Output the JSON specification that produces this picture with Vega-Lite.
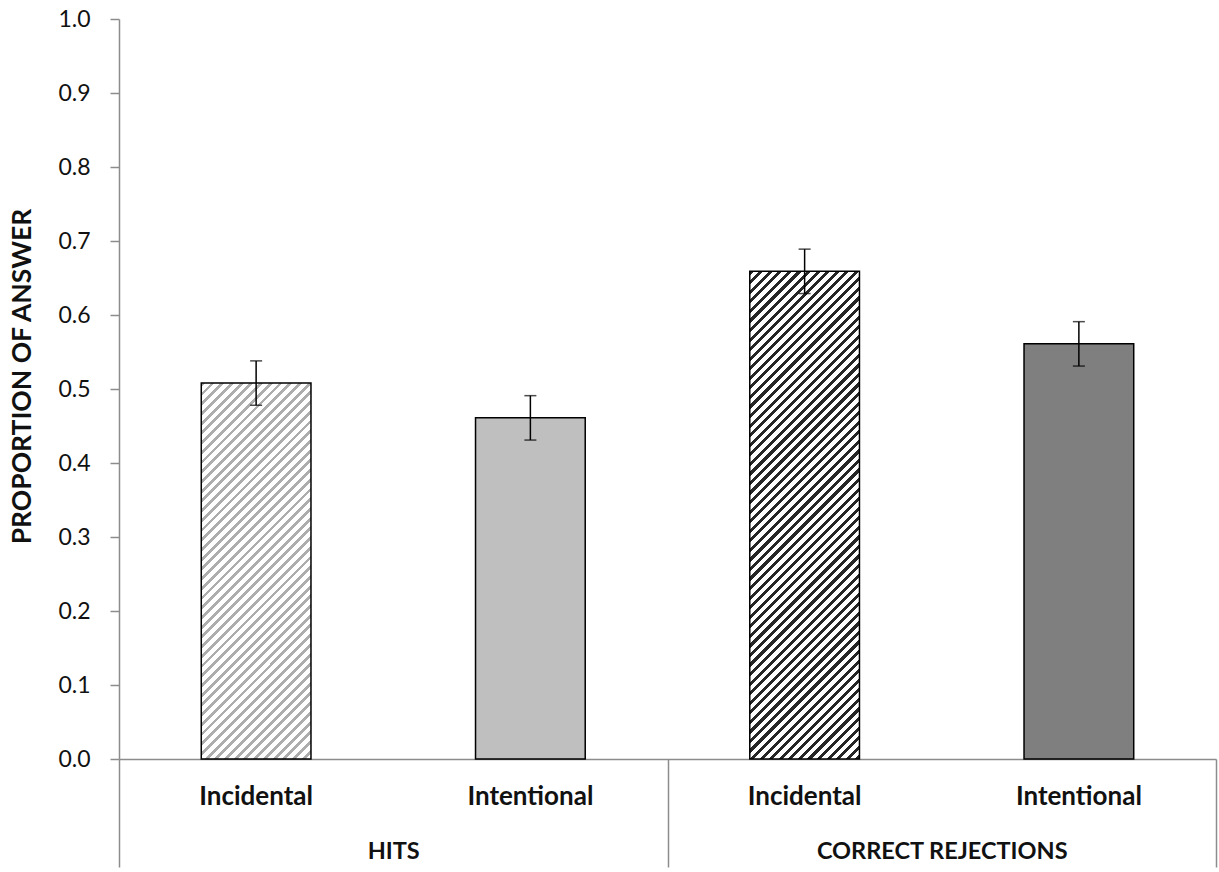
{
  "$schema": "https://vega.github.io/schema/vega-lite/v6.json",
  "width": 1097,
  "height": 740,
  "autosize": {"type": "none"},
  "padding": {"left": 119, "top": 19, "right": 3, "bottom": 113},
  "background": "#ffffff",
  "config": {
    "view": {"stroke": null},
    "font": "Lato",
    "axis": {"domainColor": "#8c8c8c", "domainWidth": 1.5, "tickColor": "#8c8c8c", "tickWidth": 1.5, "grid": false, "labelColor": "#111111", "titleColor": "#111111"}
  },
  "data": {
    "values": [
      {"measure": "HITS", "condition": "Incidental", "proportion": 0.508, "lower": 0.478, "upper": 0.538},
      {"measure": "HITS", "condition": "Intentional", "proportion": 0.461, "lower": 0.431, "upper": 0.491},
      {"measure": "CORRECT REJECTIONS", "condition": "Incidental", "proportion": 0.659, "lower": 0.629, "upper": 0.689},
      {"measure": "CORRECT REJECTIONS", "condition": "Intentional", "proportion": 0.561, "lower": 0.531, "upper": 0.591}
    ]
  },
  "encoding": {
    "x": {
      "field": "measure",
      "type": "nominal",
      "sort": ["HITS", "CORRECT REJECTIONS"],
      "scale": {"paddingInner": 0, "paddingOuter": 0},
      "axis": {
        "title": null,
        "orient": "bottom",
        "tickBand": "extent",
        "tickSize": 108,
        "labelAngle": 0,
        "labelFontSize": 23.5,
        "labelFontWeight": "bold",
        "labelPadding": -27.5,
        "labelLimit": 0,
        "labelOverlap": false
      }
    },
    "xOffset": {
      "field": "condition",
      "type": "nominal",
      "sort": ["Incidental", "Intentional"],
      "scale": {"paddingInner": 0.6, "paddingOuter": 0.3}
    }
  },
  "layer": [
    {
      "transform": [{"filter": "datum.condition === 'Intentional'"}],
      "mark": {"type": "bar", "stroke": "#000000", "strokeWidth": 1.5},
      "encoding": {
        "y": {
          "field": "proportion",
          "type": "quantitative",
          "title": "PROPORTION OF ANSWER",
          "scale": {"domain": [0, 1], "nice": false},
          "axis": {
            "values": [0, 0.1, 0.2, 0.3, 0.4, 0.5, 0.6, 0.7, 0.8, 0.9, 1],
            "format": ".1f",
            "tickSize": 9,
            "labelPadding": 20,
            "labelFontSize": 23,
            "titleFontSize": 26.5,
            "titleFontWeight": "bold",
            "titleAngle": -90,
            "titleX": -97,
            "titleY": 357,
            "titleAlign": "center",
            "titleBaseline": "middle"
          }
        },
        "color": {
          "field": "measure",
          "type": "nominal",
          "scale": {"domain": ["HITS", "CORRECT REJECTIONS"], "range": ["#bfbfbf", "#7f7f7f"]},
          "legend": null
        }
      }
    },
    {
      "transform": [{"filter": "datum.condition === 'Incidental' && datum.measure === 'HITS'"}],
      "mark": {
        "type": "bar",
        "stroke": "#000000",
        "strokeWidth": 1.5,
        "fill": {
          "gradient": "linear",
          "x1": 0, "y1": 0, "x2": 0.34741, "y2": 1.19044,
          "stops": [
            {"offset": 0, "color": "#adadad"}, {"offset": 0.008, "color": "#adadad"}, {"offset": 0.008, "color": "#fff"}, {"offset": 0.02, "color": "#fff"},
            {"offset": 0.02, "color": "#adadad"}, {"offset": 0.028, "color": "#adadad"}, {"offset": 0.028, "color": "#fff"}, {"offset": 0.04, "color": "#fff"},
            {"offset": 0.04, "color": "#adadad"}, {"offset": 0.048, "color": "#adadad"}, {"offset": 0.048, "color": "#fff"}, {"offset": 0.06, "color": "#fff"},
            {"offset": 0.06, "color": "#adadad"}, {"offset": 0.068, "color": "#adadad"}, {"offset": 0.068, "color": "#fff"}, {"offset": 0.08, "color": "#fff"},
            {"offset": 0.08, "color": "#adadad"}, {"offset": 0.088, "color": "#adadad"}, {"offset": 0.088, "color": "#fff"}, {"offset": 0.1, "color": "#fff"},
            {"offset": 0.1, "color": "#adadad"}, {"offset": 0.108, "color": "#adadad"}, {"offset": 0.108, "color": "#fff"}, {"offset": 0.12, "color": "#fff"},
            {"offset": 0.12, "color": "#adadad"}, {"offset": 0.128, "color": "#adadad"}, {"offset": 0.128, "color": "#fff"}, {"offset": 0.14, "color": "#fff"},
            {"offset": 0.14, "color": "#adadad"}, {"offset": 0.148, "color": "#adadad"}, {"offset": 0.148, "color": "#fff"}, {"offset": 0.16, "color": "#fff"},
            {"offset": 0.16, "color": "#adadad"}, {"offset": 0.168, "color": "#adadad"}, {"offset": 0.168, "color": "#fff"}, {"offset": 0.18, "color": "#fff"},
            {"offset": 0.18, "color": "#adadad"}, {"offset": 0.188, "color": "#adadad"}, {"offset": 0.188, "color": "#fff"}, {"offset": 0.2, "color": "#fff"},
            {"offset": 0.2, "color": "#adadad"}, {"offset": 0.208, "color": "#adadad"}, {"offset": 0.208, "color": "#fff"}, {"offset": 0.22, "color": "#fff"},
            {"offset": 0.22, "color": "#adadad"}, {"offset": 0.228, "color": "#adadad"}, {"offset": 0.228, "color": "#fff"}, {"offset": 0.24, "color": "#fff"},
            {"offset": 0.24, "color": "#adadad"}, {"offset": 0.248, "color": "#adadad"}, {"offset": 0.248, "color": "#fff"}, {"offset": 0.26, "color": "#fff"},
            {"offset": 0.26, "color": "#adadad"}, {"offset": 0.268, "color": "#adadad"}, {"offset": 0.268, "color": "#fff"}, {"offset": 0.28, "color": "#fff"},
            {"offset": 0.28, "color": "#adadad"}, {"offset": 0.288, "color": "#adadad"}, {"offset": 0.288, "color": "#fff"}, {"offset": 0.3, "color": "#fff"},
            {"offset": 0.3, "color": "#adadad"}, {"offset": 0.308, "color": "#adadad"}, {"offset": 0.308, "color": "#fff"}, {"offset": 0.32, "color": "#fff"},
            {"offset": 0.32, "color": "#adadad"}, {"offset": 0.328, "color": "#adadad"}, {"offset": 0.328, "color": "#fff"}, {"offset": 0.34, "color": "#fff"},
            {"offset": 0.34, "color": "#adadad"}, {"offset": 0.348, "color": "#adadad"}, {"offset": 0.348, "color": "#fff"}, {"offset": 0.36, "color": "#fff"},
            {"offset": 0.36, "color": "#adadad"}, {"offset": 0.368, "color": "#adadad"}, {"offset": 0.368, "color": "#fff"}, {"offset": 0.38, "color": "#fff"},
            {"offset": 0.38, "color": "#adadad"}, {"offset": 0.388, "color": "#adadad"}, {"offset": 0.388, "color": "#fff"}, {"offset": 0.4, "color": "#fff"},
            {"offset": 0.4, "color": "#adadad"}, {"offset": 0.408, "color": "#adadad"}, {"offset": 0.408, "color": "#fff"}, {"offset": 0.42, "color": "#fff"},
            {"offset": 0.42, "color": "#adadad"}, {"offset": 0.428, "color": "#adadad"}, {"offset": 0.428, "color": "#fff"}, {"offset": 0.44, "color": "#fff"},
            {"offset": 0.44, "color": "#adadad"}, {"offset": 0.448, "color": "#adadad"}, {"offset": 0.448, "color": "#fff"}, {"offset": 0.46, "color": "#fff"},
            {"offset": 0.46, "color": "#adadad"}, {"offset": 0.468, "color": "#adadad"}, {"offset": 0.468, "color": "#fff"}, {"offset": 0.48, "color": "#fff"},
            {"offset": 0.48, "color": "#adadad"}, {"offset": 0.488, "color": "#adadad"}, {"offset": 0.488, "color": "#fff"}, {"offset": 0.5, "color": "#fff"},
            {"offset": 0.5, "color": "#adadad"}, {"offset": 0.508, "color": "#adadad"}, {"offset": 0.508, "color": "#fff"}, {"offset": 0.52, "color": "#fff"},
            {"offset": 0.52, "color": "#adadad"}, {"offset": 0.528, "color": "#adadad"}, {"offset": 0.528, "color": "#fff"}, {"offset": 0.54, "color": "#fff"},
            {"offset": 0.54, "color": "#adadad"}, {"offset": 0.548, "color": "#adadad"}, {"offset": 0.548, "color": "#fff"}, {"offset": 0.56, "color": "#fff"},
            {"offset": 0.56, "color": "#adadad"}, {"offset": 0.568, "color": "#adadad"}, {"offset": 0.568, "color": "#fff"}, {"offset": 0.58, "color": "#fff"},
            {"offset": 0.58, "color": "#adadad"}, {"offset": 0.588, "color": "#adadad"}, {"offset": 0.588, "color": "#fff"}, {"offset": 0.6, "color": "#fff"},
            {"offset": 0.6, "color": "#adadad"}, {"offset": 0.608, "color": "#adadad"}, {"offset": 0.608, "color": "#fff"}, {"offset": 0.62, "color": "#fff"},
            {"offset": 0.62, "color": "#adadad"}, {"offset": 0.628, "color": "#adadad"}, {"offset": 0.628, "color": "#fff"}, {"offset": 0.64, "color": "#fff"},
            {"offset": 0.64, "color": "#adadad"}, {"offset": 0.648, "color": "#adadad"}, {"offset": 0.648, "color": "#fff"}, {"offset": 0.66, "color": "#fff"},
            {"offset": 0.66, "color": "#adadad"}, {"offset": 0.668, "color": "#adadad"}, {"offset": 0.668, "color": "#fff"}, {"offset": 0.68, "color": "#fff"},
            {"offset": 0.68, "color": "#adadad"}, {"offset": 0.688, "color": "#adadad"}, {"offset": 0.688, "color": "#fff"}, {"offset": 0.7, "color": "#fff"},
            {"offset": 0.7, "color": "#adadad"}, {"offset": 0.708, "color": "#adadad"}, {"offset": 0.708, "color": "#fff"}, {"offset": 0.72, "color": "#fff"},
            {"offset": 0.72, "color": "#adadad"}, {"offset": 0.728, "color": "#adadad"}, {"offset": 0.728, "color": "#fff"}, {"offset": 0.74, "color": "#fff"},
            {"offset": 0.74, "color": "#adadad"}, {"offset": 0.748, "color": "#adadad"}, {"offset": 0.748, "color": "#fff"}, {"offset": 0.76, "color": "#fff"},
            {"offset": 0.76, "color": "#adadad"}, {"offset": 0.768, "color": "#adadad"}, {"offset": 0.768, "color": "#fff"}, {"offset": 0.78, "color": "#fff"},
            {"offset": 0.78, "color": "#adadad"}, {"offset": 0.788, "color": "#adadad"}, {"offset": 0.788, "color": "#fff"}, {"offset": 0.8, "color": "#fff"},
            {"offset": 0.8, "color": "#adadad"}, {"offset": 0.808, "color": "#adadad"}, {"offset": 0.808, "color": "#fff"}, {"offset": 0.82, "color": "#fff"},
            {"offset": 0.82, "color": "#adadad"}, {"offset": 0.828, "color": "#adadad"}, {"offset": 0.828, "color": "#fff"}, {"offset": 0.84, "color": "#fff"},
            {"offset": 0.84, "color": "#adadad"}, {"offset": 0.848, "color": "#adadad"}, {"offset": 0.848, "color": "#fff"}, {"offset": 0.86, "color": "#fff"},
            {"offset": 0.86, "color": "#adadad"}, {"offset": 0.868, "color": "#adadad"}, {"offset": 0.868, "color": "#fff"}, {"offset": 0.88, "color": "#fff"},
            {"offset": 0.88, "color": "#adadad"}, {"offset": 0.888, "color": "#adadad"}, {"offset": 0.888, "color": "#fff"}, {"offset": 0.9, "color": "#fff"},
            {"offset": 0.9, "color": "#adadad"}, {"offset": 0.908, "color": "#adadad"}, {"offset": 0.908, "color": "#fff"}, {"offset": 0.92, "color": "#fff"},
            {"offset": 0.92, "color": "#adadad"}, {"offset": 0.928, "color": "#adadad"}, {"offset": 0.928, "color": "#fff"}, {"offset": 0.94, "color": "#fff"},
            {"offset": 0.94, "color": "#adadad"}, {"offset": 0.948, "color": "#adadad"}, {"offset": 0.948, "color": "#fff"}, {"offset": 0.96, "color": "#fff"},
            {"offset": 0.96, "color": "#adadad"}, {"offset": 0.968, "color": "#adadad"}, {"offset": 0.968, "color": "#fff"}, {"offset": 0.98, "color": "#fff"},
            {"offset": 0.98, "color": "#adadad"}, {"offset": 0.988, "color": "#adadad"}, {"offset": 0.988, "color": "#fff"}, {"offset": 1, "color": "#fff"}
          ]
        }
      },
      "encoding": {
        "y": {"field": "proportion", "type": "quantitative", "title": "PROPORTION OF ANSWER"}
      }
    },
    {
      "transform": [{"filter": "datum.condition === 'Incidental' && datum.measure === 'CORRECT REJECTIONS'"}],
      "mark": {
        "type": "bar",
        "stroke": "#000000",
        "strokeWidth": 1.5,
        "fill": {
          "gradient": "linear",
          "x1": 0, "y1": 0, "x2": 0.26225, "y2": 1.16591,
          "stops": [
            {"offset": 0, "color": "#262626"}, {"offset": 0.007, "color": "#262626"}, {"offset": 0.007, "color": "#fff"}, {"offset": 0.016, "color": "#fff"},
            {"offset": 0.016, "color": "#262626"}, {"offset": 0.023, "color": "#262626"}, {"offset": 0.023, "color": "#fff"}, {"offset": 0.032, "color": "#fff"},
            {"offset": 0.032, "color": "#262626"}, {"offset": 0.039, "color": "#262626"}, {"offset": 0.039, "color": "#fff"}, {"offset": 0.048, "color": "#fff"},
            {"offset": 0.048, "color": "#262626"}, {"offset": 0.055, "color": "#262626"}, {"offset": 0.055, "color": "#fff"}, {"offset": 0.064, "color": "#fff"},
            {"offset": 0.064, "color": "#262626"}, {"offset": 0.071, "color": "#262626"}, {"offset": 0.071, "color": "#fff"}, {"offset": 0.08, "color": "#fff"},
            {"offset": 0.08, "color": "#262626"}, {"offset": 0.087, "color": "#262626"}, {"offset": 0.087, "color": "#fff"}, {"offset": 0.096, "color": "#fff"},
            {"offset": 0.096, "color": "#262626"}, {"offset": 0.103, "color": "#262626"}, {"offset": 0.103, "color": "#fff"}, {"offset": 0.112, "color": "#fff"},
            {"offset": 0.112, "color": "#262626"}, {"offset": 0.119, "color": "#262626"}, {"offset": 0.119, "color": "#fff"}, {"offset": 0.128, "color": "#fff"},
            {"offset": 0.128, "color": "#262626"}, {"offset": 0.135, "color": "#262626"}, {"offset": 0.135, "color": "#fff"}, {"offset": 0.144, "color": "#fff"},
            {"offset": 0.144, "color": "#262626"}, {"offset": 0.151, "color": "#262626"}, {"offset": 0.151, "color": "#fff"}, {"offset": 0.16, "color": "#fff"},
            {"offset": 0.16, "color": "#262626"}, {"offset": 0.167, "color": "#262626"}, {"offset": 0.167, "color": "#fff"}, {"offset": 0.176, "color": "#fff"},
            {"offset": 0.176, "color": "#262626"}, {"offset": 0.183, "color": "#262626"}, {"offset": 0.183, "color": "#fff"}, {"offset": 0.192, "color": "#fff"},
            {"offset": 0.192, "color": "#262626"}, {"offset": 0.199, "color": "#262626"}, {"offset": 0.199, "color": "#fff"}, {"offset": 0.208, "color": "#fff"},
            {"offset": 0.208, "color": "#262626"}, {"offset": 0.215, "color": "#262626"}, {"offset": 0.215, "color": "#fff"}, {"offset": 0.224, "color": "#fff"},
            {"offset": 0.224, "color": "#262626"}, {"offset": 0.231, "color": "#262626"}, {"offset": 0.231, "color": "#fff"}, {"offset": 0.24, "color": "#fff"},
            {"offset": 0.24, "color": "#262626"}, {"offset": 0.247, "color": "#262626"}, {"offset": 0.247, "color": "#fff"}, {"offset": 0.256, "color": "#fff"},
            {"offset": 0.256, "color": "#262626"}, {"offset": 0.263, "color": "#262626"}, {"offset": 0.263, "color": "#fff"}, {"offset": 0.272, "color": "#fff"},
            {"offset": 0.272, "color": "#262626"}, {"offset": 0.279, "color": "#262626"}, {"offset": 0.279, "color": "#fff"}, {"offset": 0.288, "color": "#fff"},
            {"offset": 0.288, "color": "#262626"}, {"offset": 0.295, "color": "#262626"}, {"offset": 0.295, "color": "#fff"}, {"offset": 0.304, "color": "#fff"},
            {"offset": 0.304, "color": "#262626"}, {"offset": 0.311, "color": "#262626"}, {"offset": 0.311, "color": "#fff"}, {"offset": 0.32, "color": "#fff"},
            {"offset": 0.32, "color": "#262626"}, {"offset": 0.327, "color": "#262626"}, {"offset": 0.327, "color": "#fff"}, {"offset": 0.336, "color": "#fff"},
            {"offset": 0.336, "color": "#262626"}, {"offset": 0.343, "color": "#262626"}, {"offset": 0.343, "color": "#fff"}, {"offset": 0.352, "color": "#fff"},
            {"offset": 0.352, "color": "#262626"}, {"offset": 0.359, "color": "#262626"}, {"offset": 0.359, "color": "#fff"}, {"offset": 0.368, "color": "#fff"},
            {"offset": 0.368, "color": "#262626"}, {"offset": 0.375, "color": "#262626"}, {"offset": 0.375, "color": "#fff"}, {"offset": 0.384, "color": "#fff"},
            {"offset": 0.384, "color": "#262626"}, {"offset": 0.391, "color": "#262626"}, {"offset": 0.391, "color": "#fff"}, {"offset": 0.4, "color": "#fff"},
            {"offset": 0.4, "color": "#262626"}, {"offset": 0.407, "color": "#262626"}, {"offset": 0.407, "color": "#fff"}, {"offset": 0.416, "color": "#fff"},
            {"offset": 0.416, "color": "#262626"}, {"offset": 0.423, "color": "#262626"}, {"offset": 0.423, "color": "#fff"}, {"offset": 0.432, "color": "#fff"},
            {"offset": 0.432, "color": "#262626"}, {"offset": 0.439, "color": "#262626"}, {"offset": 0.439, "color": "#fff"}, {"offset": 0.448, "color": "#fff"},
            {"offset": 0.448, "color": "#262626"}, {"offset": 0.455, "color": "#262626"}, {"offset": 0.455, "color": "#fff"}, {"offset": 0.464, "color": "#fff"},
            {"offset": 0.464, "color": "#262626"}, {"offset": 0.471, "color": "#262626"}, {"offset": 0.471, "color": "#fff"}, {"offset": 0.48, "color": "#fff"},
            {"offset": 0.48, "color": "#262626"}, {"offset": 0.487, "color": "#262626"}, {"offset": 0.487, "color": "#fff"}, {"offset": 0.496, "color": "#fff"},
            {"offset": 0.496, "color": "#262626"}, {"offset": 0.503, "color": "#262626"}, {"offset": 0.503, "color": "#fff"}, {"offset": 0.512, "color": "#fff"},
            {"offset": 0.512, "color": "#262626"}, {"offset": 0.519, "color": "#262626"}, {"offset": 0.519, "color": "#fff"}, {"offset": 0.528, "color": "#fff"},
            {"offset": 0.528, "color": "#262626"}, {"offset": 0.535, "color": "#262626"}, {"offset": 0.535, "color": "#fff"}, {"offset": 0.544, "color": "#fff"},
            {"offset": 0.544, "color": "#262626"}, {"offset": 0.551, "color": "#262626"}, {"offset": 0.551, "color": "#fff"}, {"offset": 0.56, "color": "#fff"},
            {"offset": 0.56, "color": "#262626"}, {"offset": 0.567, "color": "#262626"}, {"offset": 0.567, "color": "#fff"}, {"offset": 0.576, "color": "#fff"},
            {"offset": 0.576, "color": "#262626"}, {"offset": 0.583, "color": "#262626"}, {"offset": 0.583, "color": "#fff"}, {"offset": 0.592, "color": "#fff"},
            {"offset": 0.592, "color": "#262626"}, {"offset": 0.599, "color": "#262626"}, {"offset": 0.599, "color": "#fff"}, {"offset": 0.608, "color": "#fff"},
            {"offset": 0.608, "color": "#262626"}, {"offset": 0.615, "color": "#262626"}, {"offset": 0.615, "color": "#fff"}, {"offset": 0.624, "color": "#fff"},
            {"offset": 0.624, "color": "#262626"}, {"offset": 0.631, "color": "#262626"}, {"offset": 0.631, "color": "#fff"}, {"offset": 0.64, "color": "#fff"},
            {"offset": 0.64, "color": "#262626"}, {"offset": 0.647, "color": "#262626"}, {"offset": 0.647, "color": "#fff"}, {"offset": 0.656, "color": "#fff"},
            {"offset": 0.656, "color": "#262626"}, {"offset": 0.663, "color": "#262626"}, {"offset": 0.663, "color": "#fff"}, {"offset": 0.672, "color": "#fff"},
            {"offset": 0.672, "color": "#262626"}, {"offset": 0.679, "color": "#262626"}, {"offset": 0.679, "color": "#fff"}, {"offset": 0.688, "color": "#fff"},
            {"offset": 0.688, "color": "#262626"}, {"offset": 0.695, "color": "#262626"}, {"offset": 0.695, "color": "#fff"}, {"offset": 0.704, "color": "#fff"},
            {"offset": 0.704, "color": "#262626"}, {"offset": 0.711, "color": "#262626"}, {"offset": 0.711, "color": "#fff"}, {"offset": 0.72, "color": "#fff"},
            {"offset": 0.72, "color": "#262626"}, {"offset": 0.727, "color": "#262626"}, {"offset": 0.727, "color": "#fff"}, {"offset": 0.736, "color": "#fff"},
            {"offset": 0.736, "color": "#262626"}, {"offset": 0.743, "color": "#262626"}, {"offset": 0.743, "color": "#fff"}, {"offset": 0.752, "color": "#fff"},
            {"offset": 0.752, "color": "#262626"}, {"offset": 0.759, "color": "#262626"}, {"offset": 0.759, "color": "#fff"}, {"offset": 0.768, "color": "#fff"},
            {"offset": 0.768, "color": "#262626"}, {"offset": 0.775, "color": "#262626"}, {"offset": 0.775, "color": "#fff"}, {"offset": 0.784, "color": "#fff"},
            {"offset": 0.784, "color": "#262626"}, {"offset": 0.791, "color": "#262626"}, {"offset": 0.791, "color": "#fff"}, {"offset": 0.8, "color": "#fff"},
            {"offset": 0.8, "color": "#262626"}, {"offset": 0.807, "color": "#262626"}, {"offset": 0.807, "color": "#fff"}, {"offset": 0.816, "color": "#fff"},
            {"offset": 0.816, "color": "#262626"}, {"offset": 0.823, "color": "#262626"}, {"offset": 0.823, "color": "#fff"}, {"offset": 0.832, "color": "#fff"},
            {"offset": 0.832, "color": "#262626"}, {"offset": 0.839, "color": "#262626"}, {"offset": 0.839, "color": "#fff"}, {"offset": 0.848, "color": "#fff"},
            {"offset": 0.848, "color": "#262626"}, {"offset": 0.855, "color": "#262626"}, {"offset": 0.855, "color": "#fff"}, {"offset": 0.864, "color": "#fff"},
            {"offset": 0.864, "color": "#262626"}, {"offset": 0.871, "color": "#262626"}, {"offset": 0.871, "color": "#fff"}, {"offset": 0.88, "color": "#fff"},
            {"offset": 0.88, "color": "#262626"}, {"offset": 0.887, "color": "#262626"}, {"offset": 0.887, "color": "#fff"}, {"offset": 0.896, "color": "#fff"},
            {"offset": 0.896, "color": "#262626"}, {"offset": 0.903, "color": "#262626"}, {"offset": 0.903, "color": "#fff"}, {"offset": 0.912, "color": "#fff"},
            {"offset": 0.912, "color": "#262626"}, {"offset": 0.919, "color": "#262626"}, {"offset": 0.919, "color": "#fff"}, {"offset": 0.928, "color": "#fff"},
            {"offset": 0.928, "color": "#262626"}, {"offset": 0.935, "color": "#262626"}, {"offset": 0.935, "color": "#fff"}, {"offset": 0.944, "color": "#fff"},
            {"offset": 0.944, "color": "#262626"}, {"offset": 0.951, "color": "#262626"}, {"offset": 0.951, "color": "#fff"}, {"offset": 0.96, "color": "#fff"},
            {"offset": 0.96, "color": "#262626"}, {"offset": 0.967, "color": "#262626"}, {"offset": 0.967, "color": "#fff"}, {"offset": 0.976, "color": "#fff"},
            {"offset": 0.976, "color": "#262626"}, {"offset": 0.983, "color": "#262626"}, {"offset": 0.983, "color": "#fff"}, {"offset": 0.992, "color": "#fff"},
            {"offset": 0.992, "color": "#262626"}, {"offset": 0.999, "color": "#262626"}, {"offset": 0.999, "color": "#fff"}, {"offset": 1, "color": "#fff"}
          ]
        }
      },
      "encoding": {
        "y": {"field": "proportion", "type": "quantitative", "title": "PROPORTION OF ANSWER"}
      }
    },
    {
      "mark": {"type": "rule", "color": "#000000", "strokeWidth": 1.5},
      "encoding": {
        "y": {"field": "lower", "type": "quantitative", "title": "PROPORTION OF ANSWER"},
        "y2": {"field": "upper"}
      }
    },
    {
      "mark": {"type": "tick", "color": "#000000", "size": 12, "thickness": 1.5, "orient": "horizontal"},
      "encoding": {
        "y": {"field": "lower", "type": "quantitative", "title": "PROPORTION OF ANSWER"}
      }
    },
    {
      "mark": {"type": "tick", "color": "#000000", "size": 12, "thickness": 1.5, "orient": "horizontal"},
      "encoding": {
        "y": {"field": "upper", "type": "quantitative", "title": "PROPORTION OF ANSWER"}
      }
    },
    {
      "mark": {"type": "text", "font": "Lato", "fontSize": 26, "fontWeight": "bold", "color": "#111111", "baseline": "alphabetic", "align": "center", "dy": 46},
      "encoding": {
        "y": {"datum": 0, "type": "quantitative"},
        "text": {"field": "condition"}
      }
    }
  ]
}
